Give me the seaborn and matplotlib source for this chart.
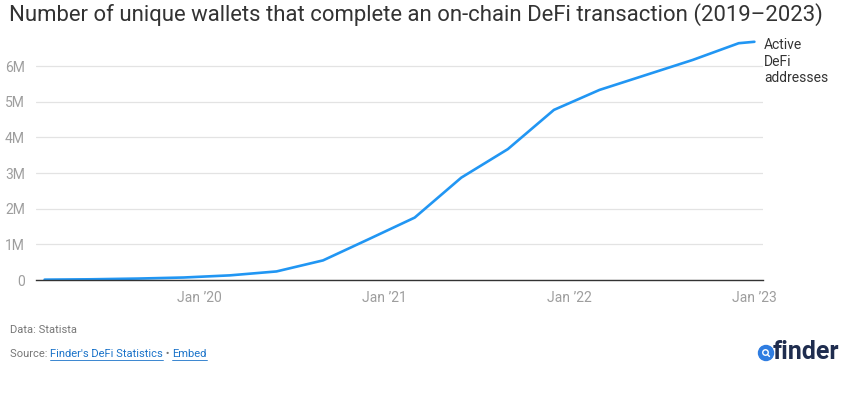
import numpy as np
import pandas as pd
import matplotlib
matplotlib.use("Agg")
import matplotlib.pyplot as plt
from matplotlib.patches import Ellipse
import seaborn as sns

# ---- data ----
dates = ["2019-03-01", "2019-06-01", "2019-09-01", "2019-12-01",
         "2020-03-01", "2020-06-01", "2020-09-01", "2020-12-01",
         "2021-03-01", "2021-06-01", "2021-09-01", "2021-12-01",
         "2022-03-01", "2022-06-01", "2022-09-01", "2022-12-01",
         "2023-01-01"]
active_addresses_m = [0.01, 0.02, 0.04, 0.07,
                      0.13, 0.24, 0.55, 1.15,
                      1.75, 2.87, 3.67, 4.77,
                      5.33, 5.75, 6.17, 6.64,
                      6.68]
series_name = "Active\nDeFi\naddresses"
ytick_values = [0, 1, 2, 3, 4, 5, 6]
ytick_labels = ["0", "1M", "2M", "3M", "4M", "5M", "6M"]
xtick_dates = ["2020-01-01", "2021-01-01", "2022-01-01", "2023-01-01"]
xtick_labels = ["Jan \u201920", "Jan \u201921", "Jan \u201922", "Jan \u201923"]
title = "Number of unique wallets that complete an on-chain DeFi transaction (2019\u20132023)"

df = pd.DataFrame({"date": pd.to_datetime(dates), "value": active_addresses_m})

sns.set_theme(style="white")
plt.rcParams["font.family"] = ["Roboto", "DejaVu Sans"]

fig = plt.figure(figsize=(8.58, 3.95), dpi=100)
W, H = 858, 395
ax = fig.add_axes([36 / W, 1 - 280 / H, (763 - 36) / W, (280 - 40) / H])

sns.lineplot(data=df, x="date", y="value", ax=ax, color="#2196f3",
             linewidth=1.9, legend=False)

ax.set_ylim(0, 6.73)
ax.set_xlim(pd.Timestamp("2019-02-12"), pd.Timestamp("2023-01-18"))
ax.set_yticks(ytick_values)
ax.set_yticklabels(ytick_labels)
ax.set_xticks(pd.to_datetime(xtick_dates))
ax.set_xticklabels(xtick_labels)
ax.set_xlabel("")
ax.set_ylabel("")
ax.tick_params(axis="both", length=0, labelsize=10, colors="#9e9e9e")
ax.tick_params(axis="y", pad=8)
ax.tick_params(axis="x", pad=8)
for lab in ax.get_yticklabels() + ax.get_xticklabels():
    lab.set_color("#9e9e9e")
ax.grid(axis="y", color="#e3e3e3", linewidth=0.9)
ax.grid(axis="x", visible=False)
for s in ["top", "right", "left"]:
    ax.spines[s].set_visible(False)
ax.spines["bottom"].set_color("#333333")
ax.spines["bottom"].set_linewidth(1.0)
ax.set_axisbelow(True)

# series label at end of line
fig.text(764 / W, 1 - 38 / H, series_name, ha="left", va="top",
         fontsize=10, color="#333333", linespacing=1.25)

# title
fig.text(9 / W, 1 - 15 / H, title, ha="left", va="center",
         fontsize=15.9, color="#333333")

# footer
FS = 8
fig.text(10 / W, 1 - 330 / H, "Data: Statista", ha="left", va="center",
         fontsize=FS, color="#777777")
t1 = fig.text(10 / W, 1 - 354 / H, "Source: ", ha="left", va="center",
              fontsize=FS, color="#777777")
fig.canvas.draw()
r = fig.canvas.get_renderer()
bb = t1.get_window_extent(r)
t2 = fig.text(bb.x1 / W, 1 - 354 / H, "Finder's DeFi Statistics", ha="left", va="center",
              fontsize=FS, color="#1a73c9")
bb2 = t2.get_window_extent(r)
fig.add_artist(plt.Line2D([bb.x1 / W, bb2.x1 / W], [(H - 359.5) / H] * 2,
                          color="#1a73c9", linewidth=0.6))
t3 = fig.text(bb2.x1 / W, 1 - 354 / H, " \u2022 ", ha="left", va="center",
              fontsize=FS, color="#777777")
bb3 = t3.get_window_extent(r)
t4 = fig.text(bb3.x1 / W, 1 - 354 / H, "Embed", ha="left", va="center",
              fontsize=FS, color="#1a73c9")
bb4 = t4.get_window_extent(r)
fig.add_artist(plt.Line2D([bb3.x1 / W, bb4.x1 / W], [(H - 359.5) / H] * 2,
                          color="#1a73c9", linewidth=0.6))

# finder logo (blue badge with small white magnifier)
fig.add_artist(Ellipse((766 / W, 1 - 353 / H), 15 / W, 15 / H,
                       transform=fig.transFigure, color="#2f7de1"))
fig.add_artist(Ellipse((765.5 / W, 1 - 352.5 / H), 5.5 / W, 5.5 / H,
                       transform=fig.transFigure, facecolor="none",
                       edgecolor="white", linewidth=1.0))
fig.add_artist(plt.Line2D([767.5 / W, 769.5 / W], [1 - 354.5 / H, 1 - 356.5 / H],
                          color="white", linewidth=1.0))
fig.text(773 / W, 1 - 352 / H, "finder", ha="left", va="center",
         fontsize=18, fontweight="bold", color="#1f2d4f")

fig.savefig("out.png", dpi=100)
